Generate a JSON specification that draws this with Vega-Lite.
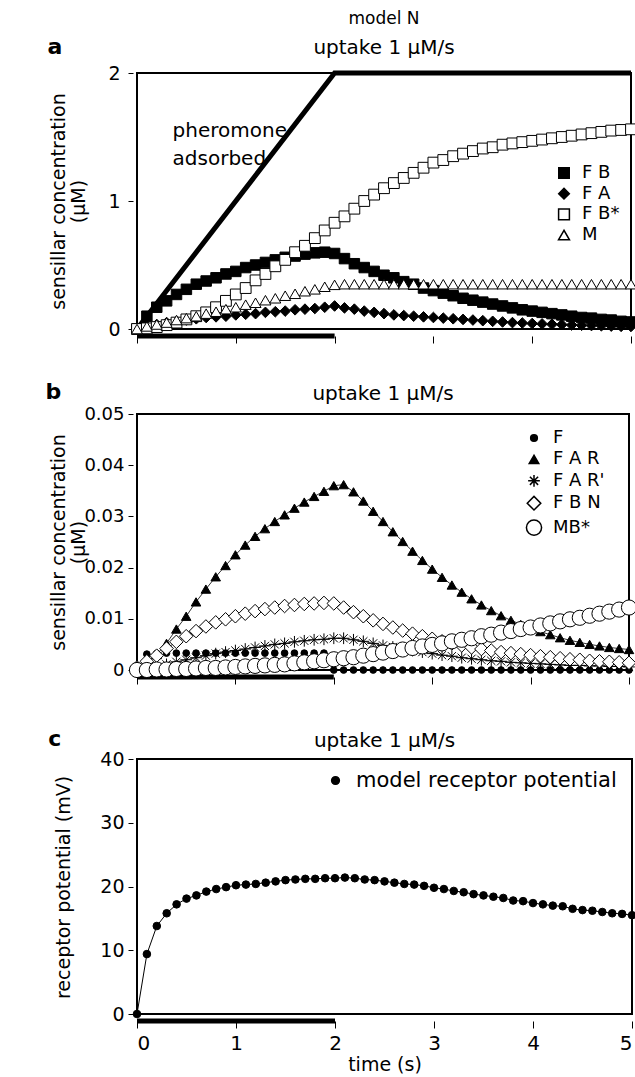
{
  "$schema": "https://vega.github.io/schema/vega-lite/v6.json",
  "background": "white",
  "padding": {"left": 44, "top": 9, "right": 4, "bottom": 2},
  "spacing": 34,
  "columns": 1,
  "resolve": {
    "scale": {"shape": "independent", "fill": "independent", "size": "independent"},
    "legend": {"shape": "independent", "fill": "independent", "size": "independent"}
  },
  "config": {
    "font": "DejaVu Sans",
    "view": {"stroke": "black", "strokeWidth": 2},
    "axis": {"grid": false, "domain": false, "tickColor": "black", "tickWidth": 1, "labelColor": "black", "labelFontSize": 19, "titleFontSize": 19, "titleFontWeight": "normal", "titleColor": "black"},
    "title": {"fontSize": 20, "fontWeight": "normal", "color": "black", "subtitleColor": "black", "frame": "group"},
    "legend": {"labelFontSize": 18, "labelColor": "black", "padding": 0, "titlePadding": 0, "labelLimit": 400}
  },
  "datasets": {
    "ph": [{"t": 0, "P": 0}, {"t": 2, "P": 2}, {"t": 5, "P": 2}],
    "stim": [{"start": 0, "end": 2}],
    "a": [
      {"t":0,"FB":0,"FA":0,"FBs":0,"M":0},
      {"t":0.1,"FB":0.1,"FA":0.02,"FBs":0.005,"M":0.02},
      {"t":0.2,"FB":0.17,"FA":0.035,"FBs":0.015,"M":0.035},
      {"t":0.3,"FB":0.22,"FA":0.05,"FBs":0.03,"M":0.05},
      {"t":0.4,"FB":0.27,"FA":0.06,"FBs":0.05,"M":0.07},
      {"t":0.5,"FB":0.31,"FA":0.07,"FBs":0.075,"M":0.085},
      {"t":0.6,"FB":0.35,"FA":0.08,"FBs":0.1,"M":0.1},
      {"t":0.7,"FB":0.375,"FA":0.09,"FBs":0.13,"M":0.12},
      {"t":0.8,"FB":0.4,"FA":0.095,"FBs":0.17,"M":0.135},
      {"t":0.9,"FB":0.43,"FA":0.1,"FBs":0.22,"M":0.155},
      {"t":1.0,"FB":0.45,"FA":0.11,"FBs":0.27,"M":0.17},
      {"t":1.1,"FB":0.48,"FA":0.115,"FBs":0.32,"M":0.19},
      {"t":1.2,"FB":0.5,"FA":0.12,"FBs":0.38,"M":0.205},
      {"t":1.3,"FB":0.52,"FA":0.13,"FBs":0.43,"M":0.225},
      {"t":1.4,"FB":0.54,"FA":0.135,"FBs":0.49,"M":0.24},
      {"t":1.5,"FB":0.56,"FA":0.14,"FBs":0.54,"M":0.26},
      {"t":1.6,"FB":0.57,"FA":0.15,"FBs":0.6,"M":0.275},
      {"t":1.7,"FB":0.585,"FA":0.155,"FBs":0.65,"M":0.295},
      {"t":1.8,"FB":0.595,"FA":0.16,"FBs":0.71,"M":0.31},
      {"t":1.9,"FB":0.6,"FA":0.17,"FBs":0.77,"M":0.33},
      {"t":2.0,"FB":0.59,"FA":0.18,"FBs":0.83,"M":0.345},
      {"t":2.1,"FB":0.55,"FA":0.165,"FBs":0.88,"M":0.35},
      {"t":2.2,"FB":0.51,"FA":0.155,"FBs":0.94,"M":0.35},
      {"t":2.3,"FB":0.48,"FA":0.14,"FBs":1.0,"M":0.35},
      {"t":2.4,"FB":0.45,"FA":0.13,"FBs":1.05,"M":0.35},
      {"t":2.5,"FB":0.42,"FA":0.12,"FBs":1.1,"M":0.35},
      {"t":2.6,"FB":0.4,"FA":0.11,"FBs":1.14,"M":0.35},
      {"t":2.7,"FB":0.37,"FA":0.105,"FBs":1.18,"M":0.35},
      {"t":2.8,"FB":0.35,"FA":0.1,"FBs":1.22,"M":0.35},
      {"t":2.9,"FB":0.32,"FA":0.095,"FBs":1.26,"M":0.35},
      {"t":3.0,"FB":0.3,"FA":0.09,"FBs":1.3,"M":0.35},
      {"t":3.1,"FB":0.28,"FA":0.085,"FBs":1.32,"M":0.35},
      {"t":3.2,"FB":0.26,"FA":0.08,"FBs":1.35,"M":0.35},
      {"t":3.3,"FB":0.24,"FA":0.075,"FBs":1.37,"M":0.35},
      {"t":3.4,"FB":0.225,"FA":0.07,"FBs":1.39,"M":0.35},
      {"t":3.5,"FB":0.21,"FA":0.065,"FBs":1.41,"M":0.35},
      {"t":3.6,"FB":0.195,"FA":0.06,"FBs":1.42,"M":0.35},
      {"t":3.7,"FB":0.18,"FA":0.055,"FBs":1.44,"M":0.35},
      {"t":3.8,"FB":0.165,"FA":0.05,"FBs":1.45,"M":0.35},
      {"t":3.9,"FB":0.15,"FA":0.047,"FBs":1.46,"M":0.35},
      {"t":4.0,"FB":0.14,"FA":0.043,"FBs":1.47,"M":0.35},
      {"t":4.1,"FB":0.13,"FA":0.04,"FBs":1.48,"M":0.35},
      {"t":4.2,"FB":0.12,"FA":0.037,"FBs":1.49,"M":0.35},
      {"t":4.3,"FB":0.11,"FA":0.034,"FBs":1.5,"M":0.35},
      {"t":4.4,"FB":0.1,"FA":0.031,"FBs":1.51,"M":0.35},
      {"t":4.5,"FB":0.09,"FA":0.029,"FBs":1.52,"M":0.35},
      {"t":4.6,"FB":0.085,"FA":0.027,"FBs":1.53,"M":0.35},
      {"t":4.7,"FB":0.075,"FA":0.025,"FBs":1.54,"M":0.35},
      {"t":4.8,"FB":0.07,"FA":0.023,"FBs":1.55,"M":0.35},
      {"t":4.9,"FB":0.06,"FA":0.021,"FBs":1.555,"M":0.35},
      {"t":5.0,"FB":0.055,"FA":0.02,"FBs":1.56,"M":0.35}
    ],
    "b": [
      {"t":0,"F":0,"FAR":0,"FARp":0,"FBN":0.0005,"MBs":0},
      {"t":0.1,"F":0.0031,"FAR":0.0012,"FARp":0.0002,"FBN":0.0017,"MBs":0},
      {"t":0.2,"F":0.0032,"FAR":0.003,"FARp":0.0006,"FBN":0.0028,"MBs":0.0001},
      {"t":0.3,"F":0.0033,"FAR":0.0052,"FARp":0.0011,"FBN":0.0042,"MBs":0.0001},
      {"t":0.4,"F":0.0033,"FAR":0.008,"FARp":0.0016,"FBN":0.0055,"MBs":0.0002},
      {"t":0.5,"F":0.0033,"FAR":0.0105,"FARp":0.002,"FBN":0.0066,"MBs":0.0002},
      {"t":0.6,"F":0.0033,"FAR":0.0133,"FARp":0.0024,"FBN":0.0076,"MBs":0.0003},
      {"t":0.7,"F":0.0033,"FAR":0.0158,"FARp":0.0028,"FBN":0.0085,"MBs":0.0004},
      {"t":0.8,"F":0.0033,"FAR":0.0182,"FARp":0.0032,"FBN":0.0093,"MBs":0.0004},
      {"t":0.9,"F":0.0033,"FAR":0.0204,"FARp":0.0035,"FBN":0.0099,"MBs":0.0005},
      {"t":1.0,"F":0.0033,"FAR":0.0225,"FARp":0.0038,"FBN":0.0105,"MBs":0.0006},
      {"t":1.1,"F":0.0033,"FAR":0.0244,"FARp":0.0041,"FBN":0.011,"MBs":0.0007},
      {"t":1.2,"F":0.0033,"FAR":0.0261,"FARp":0.0044,"FBN":0.0115,"MBs":0.0008},
      {"t":1.3,"F":0.0033,"FAR":0.0276,"FARp":0.0047,"FBN":0.0119,"MBs":0.0009},
      {"t":1.4,"F":0.0033,"FAR":0.029,"FARp":0.005,"FBN":0.0122,"MBs":0.001},
      {"t":1.5,"F":0.0033,"FAR":0.0303,"FARp":0.0052,"FBN":0.0125,"MBs":0.0011},
      {"t":1.6,"F":0.0033,"FAR":0.0316,"FARp":0.0055,"FBN":0.0127,"MBs":0.0013},
      {"t":1.7,"F":0.0033,"FAR":0.0328,"FARp":0.0057,"FBN":0.0129,"MBs":0.0015},
      {"t":1.8,"F":0.0033,"FAR":0.0339,"FARp":0.0059,"FBN":0.013,"MBs":0.0017},
      {"t":1.9,"F":0.0033,"FAR":0.0349,"FARp":0.006,"FBN":0.0131,"MBs":0.0019},
      {"t":2.0,"F":0,"FAR":0.036,"FARp":0.0062,"FBN":0.013,"MBs":0.0021},
      {"t":2.1,"F":0,"FAR":0.0362,"FARp":0.0062,"FBN":0.0122,"MBs":0.0023},
      {"t":2.2,"F":0,"FAR":0.0348,"FARp":0.0059,"FBN":0.0113,"MBs":0.0025},
      {"t":2.3,"F":0,"FAR":0.033,"FARp":0.0056,"FBN":0.0105,"MBs":0.0028},
      {"t":2.4,"F":0,"FAR":0.031,"FARp":0.0052,"FBN":0.0097,"MBs":0.0031},
      {"t":2.5,"F":0,"FAR":0.029,"FARp":0.0048,"FBN":0.009,"MBs":0.0034},
      {"t":2.6,"F":0,"FAR":0.027,"FARp":0.0045,"FBN":0.0083,"MBs":0.0037},
      {"t":2.7,"F":0,"FAR":0.0251,"FARp":0.0041,"FBN":0.0077,"MBs":0.004},
      {"t":2.8,"F":0,"FAR":0.0232,"FARp":0.0038,"FBN":0.0071,"MBs":0.0043},
      {"t":2.9,"F":0,"FAR":0.0214,"FARp":0.0035,"FBN":0.0066,"MBs":0.0046},
      {"t":3.0,"F":0,"FAR":0.0197,"FARp":0.0032,"FBN":0.0061,"MBs":0.0049},
      {"t":3.1,"F":0,"FAR":0.0181,"FARp":0.0029,"FBN":0.0056,"MBs":0.0052},
      {"t":3.2,"F":0,"FAR":0.0166,"FARp":0.0027,"FBN":0.0052,"MBs":0.0056},
      {"t":3.3,"F":0,"FAR":0.0152,"FARp":0.0024,"FBN":0.0048,"MBs":0.0059},
      {"t":3.4,"F":0,"FAR":0.0139,"FARp":0.0022,"FBN":0.0044,"MBs":0.0062},
      {"t":3.5,"F":0,"FAR":0.0127,"FARp":0.002,"FBN":0.0041,"MBs":0.0066},
      {"t":3.6,"F":0,"FAR":0.0116,"FARp":0.0018,"FBN":0.0038,"MBs":0.0069},
      {"t":3.7,"F":0,"FAR":0.0106,"FARp":0.0017,"FBN":0.0035,"MBs":0.0073},
      {"t":3.8,"F":0,"FAR":0.0097,"FARp":0.0015,"FBN":0.0033,"MBs":0.0076},
      {"t":3.9,"F":0,"FAR":0.0089,"FARp":0.0014,"FBN":0.0031,"MBs":0.008},
      {"t":4.0,"F":0,"FAR":0.0082,"FARp":0.0013,"FBN":0.0029,"MBs":0.0083},
      {"t":4.1,"F":0,"FAR":0.0075,"FARp":0.0012,"FBN":0.0027,"MBs":0.0087},
      {"t":4.2,"F":0,"FAR":0.0069,"FARp":0.0011,"FBN":0.0025,"MBs":0.0091},
      {"t":4.3,"F":0,"FAR":0.0063,"FARp":0.001,"FBN":0.0023,"MBs":0.0095},
      {"t":4.4,"F":0,"FAR":0.0058,"FARp":0.0009,"FBN":0.0021,"MBs":0.0099},
      {"t":4.5,"F":0,"FAR":0.0054,"FARp":0.0009,"FBN":0.002,"MBs":0.0102},
      {"t":4.6,"F":0,"FAR":0.005,"FARp":0.0008,"FBN":0.0018,"MBs":0.0106},
      {"t":4.7,"F":0,"FAR":0.0047,"FARp":0.0008,"FBN":0.0017,"MBs":0.011},
      {"t":4.8,"F":0,"FAR":0.0044,"FARp":0.0007,"FBN":0.0016,"MBs":0.0114},
      {"t":4.9,"F":0,"FAR":0.0042,"FARp":0.0007,"FBN":0.0015,"MBs":0.0118},
      {"t":5.0,"F":0,"FAR":0.004,"FARp":0.0006,"FBN":0.0014,"MBs":0.0122}
    ],
    "c": [
      {"t":0,"RP":0},{"t":0.1,"RP":9.4},{"t":0.2,"RP":13.8},{"t":0.3,"RP":15.8},{"t":0.4,"RP":17.2},
      {"t":0.5,"RP":18.1},{"t":0.6,"RP":18.6},{"t":0.7,"RP":19.2},{"t":0.8,"RP":19.6},{"t":0.9,"RP":19.9},
      {"t":1.0,"RP":20.2},{"t":1.1,"RP":20.3},{"t":1.2,"RP":20.4},{"t":1.3,"RP":20.6},{"t":1.4,"RP":20.8},
      {"t":1.5,"RP":21.0},{"t":1.6,"RP":21.1},{"t":1.7,"RP":21.2},{"t":1.8,"RP":21.2},{"t":1.9,"RP":21.3},
      {"t":2.0,"RP":21.3},{"t":2.1,"RP":21.4},{"t":2.2,"RP":21.3},{"t":2.3,"RP":21.1},{"t":2.4,"RP":21.0},
      {"t":2.5,"RP":20.8},{"t":2.6,"RP":20.6},{"t":2.7,"RP":20.4},{"t":2.8,"RP":20.3},{"t":2.9,"RP":20.1},
      {"t":3.0,"RP":19.8},{"t":3.1,"RP":19.6},{"t":3.2,"RP":19.3},{"t":3.3,"RP":19.1},{"t":3.4,"RP":18.8},
      {"t":3.5,"RP":18.6},{"t":3.6,"RP":18.4},{"t":3.7,"RP":18.2},{"t":3.8,"RP":17.8},{"t":3.9,"RP":17.7},
      {"t":4.0,"RP":17.4},{"t":4.1,"RP":17.2},{"t":4.2,"RP":17.0},{"t":4.3,"RP":16.9},{"t":4.4,"RP":16.5},
      {"t":4.5,"RP":16.3},{"t":4.6,"RP":16.2},{"t":4.7,"RP":16.0},{"t":4.8,"RP":15.8},{"t":4.9,"RP":15.7},
      {"t":5.0,"RP":15.5}
    ]
  },
  "concat": [
    {
      "width": 494,
      "height": 256,
      "title": {"text": "model N", "subtitle": "uptake 1 μM/s", "fontSize": 17, "subtitleFontSize": 20, "subtitlePadding": 10, "offset": -23},
      "layer": [
        {
          "data": {"name": "stim"},
          "mark": {"type": "rule", "strokeWidth": 5, "color": "black", "clip": false},
          "encoding": {
            "x": {"field": "start", "type": "quantitative", "scale": {"domain": [0, 5], "nice": false, "zero": false},
                  "axis": {"values": [0, 1, 2, 3, 4, 5], "labels": false, "title": null, "offset": 7, "tickSize": 7}},
            "x2": {"field": "end"},
            "y": {"datum": -0.055, "type": "quantitative", "scale": {"domain": [0, 2], "nice": false, "zero": false},
                  "axis": {"values": [0, 1, 2], "format": "~g", "offset": 4, "tickSize": 5, "labelPadding": 8, "title": ["sensillar concentration", "(μM)"], "titleLineHeight": 20, "titleX": -84, "titleY": 128, "titleBaseline": "top"}}
          }
        },
        {
          "data": {"name": "ph"},
          "mark": {"type": "line", "strokeWidth": 5, "color": "black", "strokeCap": "butt"},
          "encoding": {
            "x": {"field": "t", "type": "quantitative", "scale": {"domain": [0, 5], "nice": false, "zero": false},
                  "axis": {"values": [0, 1, 2, 3, 4, 5], "labels": false, "title": null, "offset": 7, "tickSize": 7}},
            "y": {"field": "P", "type": "quantitative", "scale": {"domain": [0, 2], "nice": false, "zero": false},
                  "axis": {"values": [0, 1, 2], "format": "~g", "offset": 4, "tickSize": 5, "labelPadding": 8, "title": ["sensillar concentration", "(μM)"], "titleLineHeight": 20, "titleX": -84, "titleY": 128, "titleBaseline": "top"}}
          }
        },
        {
          "data": {"name": "a"},
          "transform": [{"fold": ["FB", "FA", "FBs", "M"], "as": ["s", "v"]}],
          "mark": {"type": "point", "stroke": "black", "strokeWidth": 1, "opacity": 1, "fillOpacity": 1},
          "encoding": {
            "x": {"field": "t", "type": "quantitative", "scale": {"domain": [0, 5], "nice": false, "zero": false},
                  "axis": {"values": [0, 1, 2, 3, 4, 5], "labels": false, "title": null, "offset": 7, "tickSize": 7}},
            "y": {"field": "v", "type": "quantitative", "scale": {"domain": [0, 2], "nice": false, "zero": false},
                  "axis": {"values": [0, 1, 2], "format": "~g", "offset": 4, "tickSize": 5, "labelPadding": 8, "title": ["sensillar concentration", "(μM)"], "titleLineHeight": 20, "titleX": -84, "titleY": 128, "titleBaseline": "top"}},
            "shape": {"field": "s", "type": "nominal", "scale": {"domain": ["FB", "FA", "FBs", "M"], "range": ["square", "diamond", "square", "triangle-up"]},
                      "legend": {"orient": "none", "legendX": 418, "legendY": 91, "title": null, "rowPadding": 2.7, "labelOffset": 9, "labelExpr": "datum.label == 'FB' ? 'F B' : datum.label == 'FA' ? 'F A' : datum.label == 'FBs' ? 'F B*' : 'M'", "encode": {"symbols": {"update": {"stroke": {"value": "black"}, "strokeWidth": {"value": 1}}}}}},
            "fill": {"field": "s", "type": "nominal", "scale": {"domain": ["FB", "FA", "FBs", "M"], "range": ["black", "black", "white", "white"]},
                     "legend": {"orient": "none", "legendX": 418, "legendY": 91, "title": null, "rowPadding": 2.7, "labelOffset": 9, "labelExpr": "datum.label == 'FB' ? 'F B' : datum.label == 'FA' ? 'F A' : datum.label == 'FBs' ? 'F B*' : 'M'", "encode": {"symbols": {"update": {"stroke": {"value": "black"}, "strokeWidth": {"value": 1}}}}}},
            "size": {"field": "s", "type": "nominal", "scale": {"domain": ["FB", "FA", "FBs", "M"], "range": [110, 120, 85, 230]},
                     "legend": {"orient": "none", "legendX": 418, "legendY": 91, "title": null, "rowPadding": 2.7, "labelOffset": 9, "labelExpr": "datum.label == 'FB' ? 'F B' : datum.label == 'FA' ? 'F A' : datum.label == 'FBs' ? 'F B*' : 'M'", "encode": {"symbols": {"update": {"stroke": {"value": "black"}, "strokeWidth": {"value": 1}}}}}},
            "order": {"field": "s"}
          }
        },
        {
          "data": {"values": [{"label": "pheromone adsorbed"}]},
          "mark": {"type": "text", "text": ["pheromone", "adsorbed"], "fontSize": 20, "align": "left", "baseline": "alphabetic", "lineHeight": 28, "color": "black"},
          "encoding": {
            "x": {"datum": 0.36, "type": "quantitative", "scale": {"domain": [0, 5], "nice": false, "zero": false},
                  "axis": {"values": [0, 1, 2, 3, 4, 5], "labels": false, "title": null, "offset": 7, "tickSize": 7}},
            "y": {"datum": 1.5, "type": "quantitative", "scale": {"domain": [0, 2], "nice": false, "zero": false},
                  "axis": {"values": [0, 1, 2], "format": "~g", "offset": 4, "tickSize": 5, "labelPadding": 8, "title": ["sensillar concentration", "(μM)"], "titleLineHeight": 20, "titleX": -84, "titleY": 128, "titleBaseline": "top"}}
          }
        },
        {
          "data": {"values": [{"panel": "a"}]},
          "mark": {"type": "text", "fontSize": 22, "fontWeight": "bold", "align": "center", "baseline": "middle", "color": "black", "clip": false},
          "encoding": {
            "text": {"field": "panel"},
            "x": {"datum": -0.83, "type": "quantitative", "scale": {"domain": [0, 5], "nice": false, "zero": false},
                  "axis": {"values": [0, 1, 2, 3, 4, 5], "labels": false, "title": null, "offset": 7, "tickSize": 7}},
            "y": {"datum": 2.2, "type": "quantitative", "scale": {"domain": [0, 2], "nice": false, "zero": false},
                  "axis": {"values": [0, 1, 2], "format": "~g", "offset": 4, "tickSize": 5, "labelPadding": 8, "title": ["sensillar concentration", "(μM)"], "titleLineHeight": 20, "titleX": -84, "titleY": 128, "titleBaseline": "top"}}
          }
        }
      ]
    },
    {
      "width": 492,
      "height": 256,
      "title": {"text": "uptake 1 μM/s", "fontSize": 20, "offset": -23},
      "layer": [
        {
          "data": {"name": "stim"},
          "mark": {"type": "rule", "strokeWidth": 5, "color": "black", "clip": false},
          "encoding": {
            "x": {"field": "start", "type": "quantitative", "scale": {"domain": [0, 5], "nice": false, "zero": false},
                  "axis": {"values": [0, 1, 2, 3, 4, 5], "labels": false, "title": " ", "titleFontSize": 1, "titlePadding": 6, "offset": 7, "tickSize": 7}},
            "x2": {"field": "end"},
            "y": {"datum": -0.00137, "type": "quantitative", "scale": {"domain": [0, 0.05], "nice": false, "zero": false},
                  "axis": {"values": [0, 0.01, 0.02, 0.03, 0.04, 0.05], "format": ".2~f", "labelFontSize": 18, "offset": 4, "tickSize": 5, "labelPadding": 4, "title": ["sensillar concentration", "(μM)"], "titleLineHeight": 20, "titleX": -84, "titleY": 128, "titleBaseline": "top"}}
          }
        },
        {
          "data": {"name": "b"},
          "transform": [{"fold": ["FAR", "FARp", "FBN", "MBs"], "as": ["s", "v"]}],
          "mark": {"type": "line", "strokeWidth": 0.8, "color": "black"},
          "encoding": {
            "x": {"field": "t", "type": "quantitative", "scale": {"domain": [0, 5], "nice": false, "zero": false},
                  "axis": {"values": [0, 1, 2, 3, 4, 5], "labels": false, "title": " ", "titleFontSize": 1, "titlePadding": 6, "offset": 7, "tickSize": 7}},
            "y": {"field": "v", "type": "quantitative", "scale": {"domain": [0, 0.05], "nice": false, "zero": false},
                  "axis": {"values": [0, 0.01, 0.02, 0.03, 0.04, 0.05], "format": ".2~f", "labelFontSize": 18, "offset": 4, "tickSize": 5, "labelPadding": 4, "title": ["sensillar concentration", "(μM)"], "titleLineHeight": 20, "titleX": -84, "titleY": 128, "titleBaseline": "top"}},
            "detail": {"field": "s"}
          }
        },
        {
          "data": {"name": "b"},
          "transform": [{"fold": ["F", "FAR", "FARp", "FBN", "MBs"], "as": ["s", "v"]}],
          "mark": {"type": "point", "stroke": "black", "strokeWidth": 1, "opacity": 1, "fillOpacity": 1},
          "encoding": {
            "x": {"field": "t", "type": "quantitative", "scale": {"domain": [0, 5], "nice": false, "zero": false},
                  "axis": {"values": [0, 1, 2, 3, 4, 5], "labels": false, "title": " ", "titleFontSize": 1, "titlePadding": 6, "offset": 7, "tickSize": 7}},
            "y": {"field": "v", "type": "quantitative", "scale": {"domain": [0, 0.05], "nice": false, "zero": false},
                  "axis": {"values": [0, 0.01, 0.02, 0.03, 0.04, 0.05], "format": ".2~f", "labelFontSize": 18, "offset": 4, "tickSize": 5, "labelPadding": 4, "title": ["sensillar concentration", "(μM)"], "titleLineHeight": 20, "titleX": -84, "titleY": 128, "titleBaseline": "top"}},
            "shape": {"field": "s", "type": "nominal", "scale": {"domain": ["F", "FAR", "FARp", "FBN", "MBs"], "range": ["circle", "triangle-up", "M0,-1L0,1M-1,0L1,0M-0.7,-0.7L0.7,0.7M-0.7,0.7L0.7,-0.7", "diamond", "circle"]},
                      "legend": {"orient": "none", "legendX": 388, "legendY": 15, "title": null, "rowPadding": 3.4, "labelOffset": 10, "labelExpr": "datum.label == 'F' ? 'F' : datum.label == 'FAR' ? 'F A R' : datum.label == 'FARp' ? \"F A R'\" : datum.label == 'FBN' ? 'F B N' : 'MB*'", "encode": {"symbols": {"update": {"stroke": {"value": "black"}, "strokeWidth": {"value": 1}}}}}},
            "fill": {"field": "s", "type": "nominal", "scale": {"domain": ["F", "FAR", "FARp", "FBN", "MBs"], "range": ["black", "black", "black", "white", "white"]},
                     "legend": {"orient": "none", "legendX": 388, "legendY": 15, "title": null, "rowPadding": 3.4, "labelOffset": 10, "labelExpr": "datum.label == 'F' ? 'F' : datum.label == 'FAR' ? 'F A R' : datum.label == 'FARp' ? \"F A R'\" : datum.label == 'FBN' ? 'F B N' : 'MB*'", "encode": {"symbols": {"update": {"stroke": {"value": "black"}, "strokeWidth": {"value": 1}}}}}},
            "size": {"field": "s", "type": "nominal", "scale": {"domain": ["F", "FAR", "FARp", "FBN", "MBs"], "range": [45, 230, 90, 170, 110]},
                     "legend": {"orient": "none", "legendX": 388, "legendY": 15, "title": null, "rowPadding": 3.4, "labelOffset": 10, "labelExpr": "datum.label == 'F' ? 'F' : datum.label == 'FAR' ? 'F A R' : datum.label == 'FARp' ? \"F A R'\" : datum.label == 'FBN' ? 'F B N' : 'MB*'", "encode": {"symbols": {"update": {"stroke": {"value": "black"}, "strokeWidth": {"value": 1}}}}}},
            "order": {"field": "s"}
          }
        },
        {
          "data": {"values": [{"panel": "b"}]},
          "mark": {"type": "text", "fontSize": 22, "fontWeight": "bold", "align": "center", "baseline": "middle", "color": "black", "clip": false},
          "encoding": {
            "text": {"field": "panel"},
            "x": {"datum": -0.85, "type": "quantitative", "scale": {"domain": [0, 5], "nice": false, "zero": false},
                  "axis": {"values": [0, 1, 2, 3, 4, 5], "labels": false, "title": " ", "titleFontSize": 1, "titlePadding": 6, "offset": 7, "tickSize": 7}},
            "y": {"datum": 0.0543, "type": "quantitative", "scale": {"domain": [0, 0.05], "nice": false, "zero": false},
                  "axis": {"values": [0, 0.01, 0.02, 0.03, 0.04, 0.05], "format": ".2~f", "labelFontSize": 18, "offset": 4, "tickSize": 5, "labelPadding": 4, "title": ["sensillar concentration", "(μM)"], "titleLineHeight": 20, "titleX": -84, "titleY": 128, "titleBaseline": "top"}}
          }
        }
      ]
    },
    {
      "width": 495,
      "height": 255,
      "title": {"text": "uptake 1 μM/s", "fontSize": 20, "offset": -23},
      "layer": [
        {
          "data": {"name": "stim"},
          "mark": {"type": "rule", "strokeWidth": 5, "color": "black", "clip": false},
          "encoding": {
            "x": {"field": "start", "type": "quantitative", "scale": {"domain": [0, 5], "nice": false, "zero": false},
                  "axis": {"values": [0, 1, 2, 3, 4, 5], "title": "time (s)", "offset": 7, "tickSize": 7, "labelFontSize": 20, "labelPadding": 5, "titlePadding": 2}},
            "x2": {"field": "end"},
            "y": {"datum": -1.1, "type": "quantitative", "scale": {"domain": [0, 40], "nice": false, "zero": false},
                  "axis": {"values": [0, 10, 20, 30, 40], "offset": 4, "tickSize": 5, "labelPadding": 4, "title": "receptor potential (mV)", "titleX": -79, "titleY": 128, "titleBaseline": "top"}}
          }
        },
        {
          "data": {"name": "c"},
          "mark": {"type": "line", "strokeWidth": 1, "color": "black"},
          "encoding": {
            "x": {"field": "t", "type": "quantitative", "scale": {"domain": [0, 5], "nice": false, "zero": false},
                  "axis": {"values": [0, 1, 2, 3, 4, 5], "title": "time (s)", "offset": 7, "tickSize": 7, "labelFontSize": 20, "labelPadding": 5, "titlePadding": 2}},
            "y": {"field": "RP", "type": "quantitative", "scale": {"domain": [0, 40], "nice": false, "zero": false},
                  "axis": {"values": [0, 10, 20, 30, 40], "offset": 4, "tickSize": 5, "labelPadding": 4, "title": "receptor potential (mV)", "titleX": -79, "titleY": 128, "titleBaseline": "top"}}
          }
        },
        {
          "data": {"name": "c"},
          "transform": [{"fold": ["RP"], "as": ["s", "v"]}],
          "mark": {"type": "point", "shape": "circle", "stroke": "black", "strokeWidth": 1, "opacity": 1, "fillOpacity": 1, "size": 58},
          "encoding": {
            "x": {"field": "t", "type": "quantitative", "scale": {"domain": [0, 5], "nice": false, "zero": false},
                  "axis": {"values": [0, 1, 2, 3, 4, 5], "title": "time (s)", "offset": 7, "tickSize": 7, "labelFontSize": 20, "labelPadding": 5, "titlePadding": 2}},
            "y": {"field": "v", "type": "quantitative", "scale": {"domain": [0, 40], "nice": false, "zero": false},
                  "axis": {"values": [0, 10, 20, 30, 40], "offset": 4, "tickSize": 5, "labelPadding": 4, "title": "receptor potential (mV)", "titleX": -79, "titleY": 128, "titleBaseline": "top"}},
            "fill": {"field": "s", "type": "nominal", "scale": {"domain": ["RP"], "range": ["black"]},
                     "legend": {"orient": "none", "legendX": 188, "legendY": 11, "title": null, "symbolType": "circle", "symbolSize": 60, "labelFontSize": 21, "labelOffset": 10, "labelExpr": "'model receptor potential'", "encode": {"symbols": {"update": {"stroke": {"value": "black"}, "strokeWidth": {"value": 1}}}}}}
          }
        },
        {
          "data": {"values": [{"panel": "c"}]},
          "mark": {"type": "text", "fontSize": 22, "fontWeight": "bold", "align": "center", "baseline": "middle", "color": "black", "clip": false},
          "encoding": {
            "text": {"field": "panel"},
            "x": {"datum": -0.83, "type": "quantitative", "scale": {"domain": [0, 5], "nice": false, "zero": false},
                  "axis": {"values": [0, 1, 2, 3, 4, 5], "title": "time (s)", "offset": 7, "tickSize": 7, "labelFontSize": 20, "labelPadding": 5, "titlePadding": 2}},
            "y": {"datum": 43.1, "type": "quantitative", "scale": {"domain": [0, 40], "nice": false, "zero": false},
                  "axis": {"values": [0, 10, 20, 30, 40], "offset": 4, "tickSize": 5, "labelPadding": 4, "title": "receptor potential (mV)", "titleX": -79, "titleY": 128, "titleBaseline": "top"}}
          }
        }
      ]
    }
  ]
}
